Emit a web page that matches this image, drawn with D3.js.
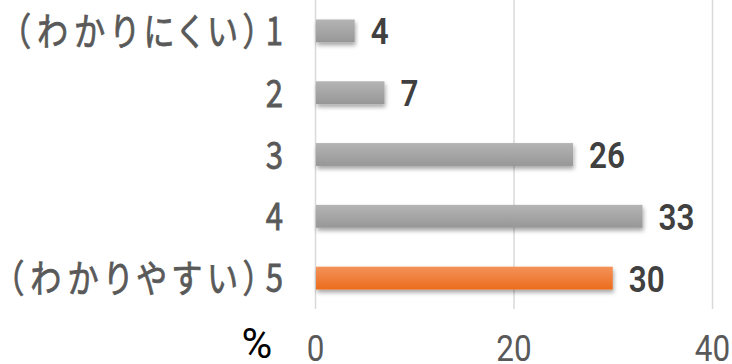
<!DOCTYPE html>
<html><head><meta charset="utf-8">
<script src="https://cdn.jsdelivr.net/npm/d3@7"></script>
<style>
html,body{margin:0;padding:0;background:#fff;}
svg{display:block;}
</style></head>
<body>
<svg id="chart" width="732" height="364"></svg>
<script>
const categories = ["（わかりにくい）1", "2", "3", "4", "（わかりやすい）5"];
const values = [4, 7, 26, 33, 30];
const highlight = [false, false, false, false, true];
const xTicks = [0, 20, 40];
const unitLabel = "%";

const svg = d3.select("#chart");
const W = 732, H = 364;
const plotLeft = 315, plotRight = 712, plotTop = 0, plotBottom = 309;

const x = d3.scaleLinear().domain([0, 40]).range([plotLeft, plotRight]);
const y = d3.scaleBand().domain(categories).range([plotTop, plotBottom]).paddingInner(0.63).paddingOuter(0.315);

const defs = svg.append("defs");
const gGray = defs.append("linearGradient").attr("id", "gGray").attr("x1", 0).attr("y1", 0).attr("x2", 0).attr("y2", 1);
gGray.append("stop").attr("offset", "0%").attr("stop-color", "#b4b4b4");
gGray.append("stop").attr("offset", "100%").attr("stop-color", "#979797");
const gOr = defs.append("linearGradient").attr("id", "gOr").attr("x1", 0).attr("y1", 0).attr("x2", 0).attr("y2", 1);
gOr.append("stop").attr("offset", "0%").attr("stop-color", "#f3925a");
gOr.append("stop").attr("offset", "100%").attr("stop-color", "#ec6c1c");
const f = defs.append("filter").attr("id", "shadow").attr("x", "-10%").attr("y", "-30%").attr("width", "120%").attr("height", "180%");
f.append("feDropShadow").attr("dx", 1).attr("dy", 3).attr("stdDeviation", 2).attr("flood-color", "#000").attr("flood-opacity", 0.35);

// gridlines + x tick labels
const xAxis = d3.axisBottom(x).tickValues(xTicks).tickSize(-(plotBottom - plotTop)).tickPadding(0);
const gx = svg.append("g").attr("transform", `translate(0,${plotBottom})`).call(xAxis);
gx.select(".domain").remove();
gx.selectAll(".tick line").attr("stroke", "#d9d9d9").attr("stroke-width", 1.5);
gx.selectAll(".tick text")
  .attr("x", 0).attr("y", 0).attr("dy", null)
  .attr("transform", "translate(0,52) scale(0.85,1)")
  .attr("fill", "#595959")
  .style("font-family", "Roboto, 'Liberation Sans', sans-serif")
  .style("font-size", "37px");

// bars
svg.append("g").selectAll("rect").data(values).join("rect")
  .attr("x", x(0) + 1)
  .attr("y", (d, i) => y(categories[i]))
  .attr("width", d => x(d) - x(0) - 1)
  .attr("height", y.bandwidth())
  .attr("fill", (d, i) => highlight[i] ? "url(#gOr)" : "url(#gGray)")
  .attr("filter", "url(#shadow)");

// value labels
svg.append("g").selectAll("text").data(values).join("text")
  .attr("transform", (d, i) => `translate(${x(d) + 16},${y(categories[i]) + y.bandwidth() / 2 + 13.5}) scale(0.85,1)`)
  .attr("fill", "#404040")
  .style("font-family", "Roboto, 'Liberation Sans', sans-serif")
  .style("font-weight", "600")
  .style("font-size", "37px")
  .text(d => d);

// category labels
const yAxis = d3.axisLeft(y).tickSize(0).tickPadding(0);
const gy = svg.append("g").attr("transform", "translate(283,0)").call(yAxis);
gy.select(".domain").remove();
gy.selectAll(".tick text")
  .attr("x", 0).attr("dy", null).attr("y", 0)
  .attr("text-anchor", "end")
  .attr("fill", "#595959")
  .attr("stroke", "#595959")
  .attr("stroke-width", 0.8)
  .attr("transform", "translate(0,14) scale(0.82,1)")
  .style("font-family", "'Noto Sans CJK JP', Roboto, sans-serif")
  .style("font-feature-settings", "'palt'")
  .style("font-weight", "400")
  .style("font-size", "38px")
  .each(function(d){
    if (d.length > 1) {
      const t = d3.select(this);
      const s = d.slice(0, -1), last = d.slice(-1);
      t.text(null);
      t.append("tspan").style("letter-spacing", "8px").text(s);
      t.append("tspan").text(last);
    }
  });

// unit label
svg.append("text")
  .attr("x", 257).attr("y", 358)
  .attr("text-anchor", "middle")
  .attr("fill", "#000")
  .style("font-family", "Roboto, 'Liberation Sans', sans-serif")
  .style("font-size", "42px")
  .text(unitLabel);
</script>
</body></html>
